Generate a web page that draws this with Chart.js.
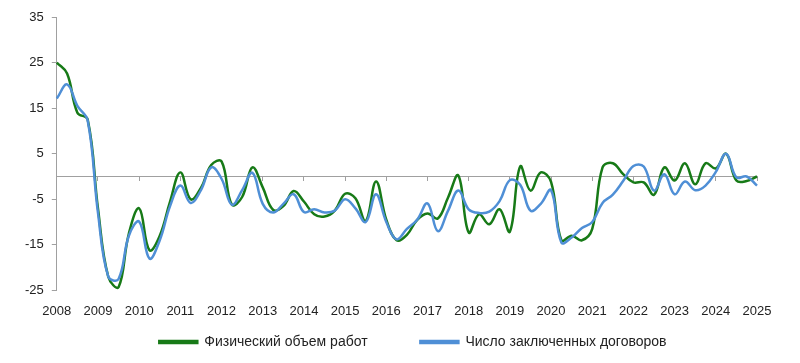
<!DOCTYPE html>
<html>
<head>
<meta charset="utf-8">
<script src="https://cdn.jsdelivr.net/npm/chart.js@4.4.1/dist/chart.umd.min.js"></script>
<style>
  html, body { margin: 0; padding: 0; background: #fff; }
  #wrap { width: 800px; height: 363px; }
</style>
</head>
<body>
<div id="wrap"><canvas id="chartEl"></canvas></div>
<script>
/************ DATA ************/
// quarterly points, 2008 Q1 .. 2025 Q1
const years = [];
for (let y = 2008; y <= 2025; y++) years.push(String(y));

const quarters = [];
years.forEach(y => {
    ["I", "II", "III", "IV"].forEach(q => quarters.push(y + " " + q));
});
quarters.length = 69;

const physVolume = [
    25, 22.6, 14, 12.5,
    -7, -22, -24.3, -12.5,
    -7, -16.2, -13, -5.5,
    0.9, -5, -2.5, 2.5,
    3.3, -6.2, -4.5, 2,
    -2.4, -7.3, -6.5, -3.2,
    -5.5, -8.3, -8.8, -7.5,
    -3.8, -4.8, -9.8, -1.1,
    -9.5, -14, -12.8, -9.5,
    -8.1, -9.2, -4.6, 0.2,
    -12.3, -8.3, -10.5, -7.2,
    -12.1, 2.2, -3.1, 0.9,
    -1.2, -14, -13, -14,
    -11.5, 2, 2.9, 0.5,
    -1.3, -1.3, -4, 2,
    -0.9, 2.9, -1.7, 2.9,
    1.8, 5, -0.9, -1,
    0
];

const contracts = [
    17.1, 20.2, 15.5, 12.3,
    -8, -22, -22.5, -13,
    -9.9, -18, -14, -6.5,
    -2, -5.8, -3, 2,
    -0.5, -6.2, -3, 0.8,
    -6, -7.9, -6, -3.9,
    -7.8, -7.2, -7.9, -7.5,
    -5, -7, -10, -3.9,
    -10, -13.8, -11.5, -9.5,
    -5.9, -12, -7.5, -3.1,
    -7.2, -8, -7.7, -5.4,
    -0.8, -1.8, -7.5, -6,
    -3, -14.5, -13.4, -11.3,
    -10, -5.8, -4, -1,
    2.3, 2.2, -3.1, 0.5,
    -3.9, -1.1, -3, -2,
    1, 5, -0.2, 0,
    -2
];

const yTicks = [-25, -15, -5, 5, 15, 25, 35];

/************ STYLE ************/
const FONT = "'Liberation Sans', 'DejaVu Sans', sans-serif";
const AXIS_GRAY = "#a0a0a0";
const GREEN = "#177a17";
const BLUE = "#4f8fd6";
const ITEM_GAP = "\u2003\u2003\u2003  ";
const LEGEND_SHIFT = 6;

Chart.defaults.font.family = FONT;
Chart.defaults.font.size = 13;
Chart.defaults.color = "#222";

// nudge the legend a little to the right of the plot centre
const legendShift = {
    id: "legendShift",
    afterLayout(chart) {
        if (!chart.legend) return;
        chart.legend.left += LEGEND_SHIFT;
        chart.legend.right += LEGEND_SHIFT;
    }
};

/************ CHART ************/
new Chart(chartEl, {
    type: "line",
    data: {
        labels: quarters,
        datasets: [
            {
                label: "Физический объем работ",
                data: physVolume,
                borderColor: GREEN,
                backgroundColor: GREEN,
                borderWidth: 2.5,
                pointRadius: 0,
                tension: 0.4,
                order: 1
            },
            {
                label: "Число заключенных договоров",
                data: contracts,
                borderColor: BLUE,
                backgroundColor: BLUE,
                borderWidth: 2.5,
                pointRadius: 0,
                tension: 0.4,
                order: 0
            }
        ]
    },
    plugins: [legendShift],
    options: {
        responsive: true,
        maintainAspectRatio: false,
        animation: false,
        layout: { padding: { left: 17, right: 43, top: 17, bottom: 4 } },
        plugins: {
            tooltip: { enabled: false },
            legend: {
                position: "bottom",
                fullSize: false,
                labels: {
                    boxWidth: 38,
                    boxHeight: 2,
                    padding: 3,
                    font: { size: 14 },
                    color: "#222",
                    sort: (a, b) => a.datasetIndex - b.datasetIndex,
                    // extra room between the two legend entries
                    generateLabels: chart => {
                        const items = Chart.defaults.plugins.legend.labels.generateLabels(chart);
                        items.forEach(it => { if (it.datasetIndex === 0) it.text += ITEM_GAP; });
                        return items;
                    }
                }
            }
        },
        scales: {
            x: {
                position: { y: 0 },
                ticks: { display: false },
                grid: {
                    drawOnChartArea: false,
                    tickLength: 4,
                    color: ctx => (ctx.index % 4 === 0 && ctx.index > 0) ? AXIS_GRAY : "rgba(0,0,0,0)"
                },
                border: { display: true, color: AXIS_GRAY, width: 1 }
            },
            x2: {
                type: "category",
                position: "bottom",
                grid: { display: false, drawTicks: false },
                border: { display: false },
                ticks: {
                    autoSkip: false,
                    maxRotation: 0,
                    padding: 13,
                    font: { size: 13 },
                    callback: (v, i) => i % 4 === 0 ? years[i / 4] : ""
                }
            },
            y: {
                min: -25,
                max: 35,
                afterBuildTicks: axis => { axis.ticks = yTicks.map(v => ({ value: v })); },
                ticks: { padding: 8, font: { size: 13 } },
                grid: { drawOnChartArea: false, tickLength: 5, color: AXIS_GRAY },
                border: { display: true, color: AXIS_GRAY, width: 1 }
            }
        }
    }
});
</script>
</body>
</html>
